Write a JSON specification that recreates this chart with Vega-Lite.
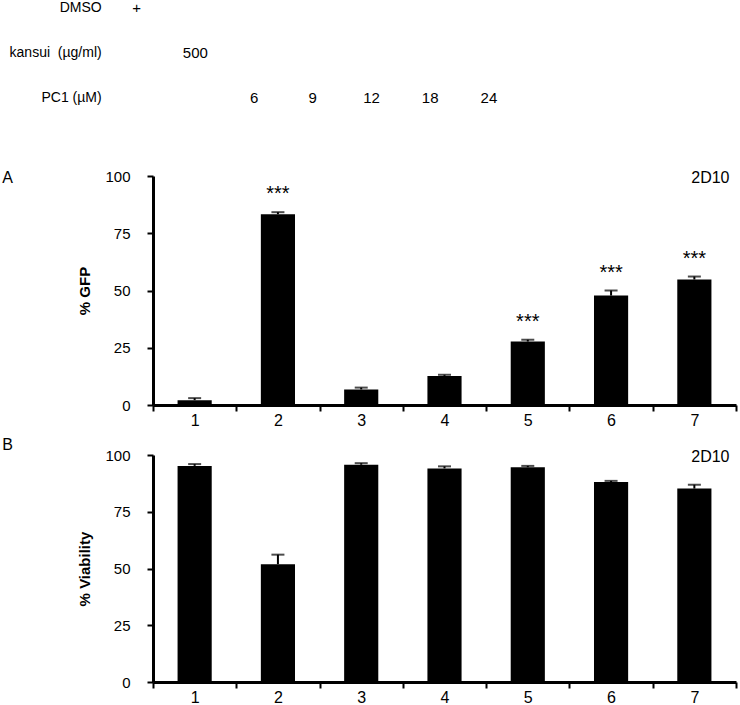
{
  "$schema": "https://vega.github.io/schema/vega-lite/v6.json",
  "padding": {"left": 2, "top": 1, "right": 4, "bottom": 0},
  "background": "white",
  "bounds": "flush",
  "spacing": 50,
  "datasets": {
    "header": [
      {"row": "DMSO", "lane": 1, "text": "+"},
      {"row": "kansui  (µg/ml)", "lane": 2, "text": "500"},
      {"row": "PC1 (µM)", "lane": 3, "text": "6"},
      {"row": "PC1 (µM)", "lane": 4, "text": "9"},
      {"row": "PC1 (µM)", "lane": 5, "text": "12"},
      {"row": "PC1 (µM)", "lane": 6, "text": "18"},
      {"row": "PC1 (µM)", "lane": 7, "text": "24"}
    ],
    "rows": [
      {"row": "DMSO", "label": "DMSO"},
      {"row": "kansui  (µg/ml)", "label": "kansui \u00a0(µg/ml)"},
      {"row": "PC1 (µM)", "label": "PC1 (µM)"}
    ],
    "gfp": [
      {"lane": 1, "value": 2.1, "upper": 3.0, "sig": ""},
      {"lane": 2, "value": 83.3, "upper": 84.2, "sig": "***"},
      {"lane": 3, "value": 6.8, "upper": 7.6, "sig": ""},
      {"lane": 4, "value": 12.7, "upper": 13.2, "sig": ""},
      {"lane": 5, "value": 27.7, "upper": 28.5, "sig": "***"},
      {"lane": 6, "value": 47.8, "upper": 50.0, "sig": "***"},
      {"lane": 7, "value": 54.8, "upper": 56.1, "sig": "***"}
    ],
    "via": [
      {"lane": 1, "value": 95.2, "upper": 96.0},
      {"lane": 2, "value": 51.9, "upper": 56.1},
      {"lane": 3, "value": 95.7, "upper": 96.4},
      {"lane": 4, "value": 94.1, "upper": 95.0},
      {"lane": 5, "value": 94.6, "upper": 95.2},
      {"lane": 6, "value": 88.1, "upper": 88.6},
      {"lane": 7, "value": 85.2, "upper": 86.9}
    ],
    "one": [{"n": 1}]
  },
  "vconcat": [
    {
      "width": 583,
      "height": 118,
      "layer": [
        {
          "data": {"name": "header"},
          "mark": {"type": "text", "fontSize": 15, "align": "center", "baseline": "middle", "color": "black"},
          "encoding": {
            "x": {"field": "lane", "type": "quantitative", "scale": {"domain": [1.278, 11.21], "nice": false, "zero": false}, "axis": null},
            "y": {"field": "row", "type": "nominal", "scale": {"type": "point", "domain": ["DMSO", "kansui  (µg/ml)", "PC1 (µM)"], "padding": 0.311, "align": 0}, "axis": null},
            "text": {"field": "text"}
          }
        },
        {
          "data": {"name": "rows"},
          "mark": {"type": "text", "fontSize": 14, "align": "right", "baseline": "middle", "dx": -35, "color": "black"},
          "encoding": {
            "x": {"datum": 1, "type": "quantitative"},
            "y": {"field": "row", "type": "nominal"},
            "text": {"field": "label"}
          }
        }
      ]
    },
    {
      "width": 583,
      "height": 229,
      "encoding": {
        "x": {"field": "lane", "type": "ordinal", "scale": {"paddingInner": 0, "paddingOuter": 0},
          "axis": {"title": null, "labelAngle": 0, "tickBand": "extent", "labelFontSize": 16, "labelPadding": 1}}
      },
      "layer": [
        {"data": {"name": "gfp"}, "mark": {"type": "bar", "color": "black", "width": {"band": 0.41}},
          "encoding": {"y": {"field": "value", "type": "quantitative", "scale": {"domain": [0, 100], "nice": false},
            "axis": {"title": "% GFP", "values": [0, 25, 50, 75, 100]}}}},
        {"data": {"name": "gfp"}, "mark": {"type": "rule", "color": "black", "strokeWidth": 2},
          "encoding": {"y": {"field": "value", "type": "quantitative"}, "y2": {"field": "upper"}}},
        {"data": {"name": "gfp"}, "mark": {"type": "tick", "color": "black", "size": 13, "thickness": 2},
          "encoding": {"y": {"field": "upper", "type": "quantitative"}}},
        {"data": {"name": "gfp"}, "mark": {"type": "text", "fontSize": 20, "baseline": "alphabetic", "dy": -12, "color": "black"},
          "encoding": {"y": {"field": "upper", "type": "quantitative"}, "text": {"field": "sig"}}},
        {"data": {"name": "one"}, "mark": {"type": "text", "fontSize": 16, "baseline": "middle", "dx": 16, "color": "black", "text": "2D10"},
          "encoding": {"x": {"datum": 7, "type": "ordinal"}, "y": {"datum": 99, "type": "quantitative"}}},
        {"data": {"name": "one"}, "mark": {"type": "text", "fontSize": 16, "baseline": "middle", "dx": -187, "dy": 2, "color": "black", "text": "A"},
          "encoding": {"x": {"datum": 1, "type": "ordinal"}, "y": {"datum": 100, "type": "quantitative"}}}
      ]
    },
    {
      "width": 583,
      "height": 227,
      "encoding": {
        "x": {"field": "lane", "type": "ordinal", "scale": {"paddingInner": 0, "paddingOuter": 0},
          "axis": {"title": null, "labelAngle": 0, "tickBand": "extent", "labelFontSize": 16, "labelPadding": 1}}
      },
      "layer": [
        {"data": {"name": "via"}, "mark": {"type": "bar", "color": "black", "width": {"band": 0.41}},
          "encoding": {"y": {"field": "value", "type": "quantitative", "scale": {"domain": [0, 100], "nice": false},
            "axis": {"title": "% Viability", "values": [0, 25, 50, 75, 100]}}}},
        {"data": {"name": "via"}, "mark": {"type": "rule", "color": "black", "strokeWidth": 2},
          "encoding": {"y": {"field": "value", "type": "quantitative"}, "y2": {"field": "upper"}}},
        {"data": {"name": "via"}, "mark": {"type": "tick", "color": "black", "size": 13, "thickness": 2},
          "encoding": {"y": {"field": "upper", "type": "quantitative"}}},
        {"data": {"name": "one"}, "mark": {"type": "text", "fontSize": 16, "baseline": "middle", "dx": 16, "color": "black", "text": "2D10"},
          "encoding": {"x": {"datum": 7, "type": "ordinal"}, "y": {"datum": 99, "type": "quantitative"}}},
        {"data": {"name": "one"}, "mark": {"type": "text", "fontSize": 16, "baseline": "middle", "dx": -187, "dy": -10, "color": "black", "text": "B"},
          "encoding": {"x": {"datum": 1, "type": "ordinal"}, "y": {"datum": 100, "type": "quantitative"}}}
      ]
    }
  ],
  "config": {
    "view": {"stroke": null},
    "font": "Liberation Sans",
    "text": {"font": "Liberation Sans", "fontWeight": "normal"},
    "axis": {
      "grid": false,
      "domainColor": "black", "domainWidth": 3,
      "tickColor": "black", "tickWidth": 2, "tickSize": 6,
      "labelColor": "black", "labelFont": "Liberation Sans", "labelFontSize": 15,
      "titleColor": "black", "titleFont": "Liberation Sans", "titleFontSize": 15, "titleFontWeight": "bold"
    },
    "axisY": {"labelPadding": 17, "titlePadding": 12}
  }
}
